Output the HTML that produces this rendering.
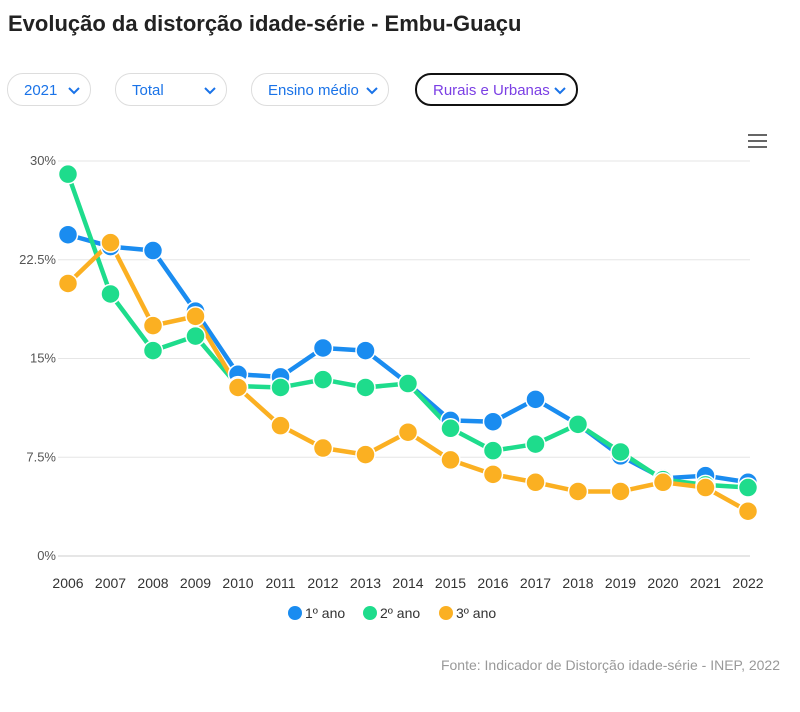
<!DOCTYPE html>
<html><head><meta charset="utf-8">
<style>
body{margin:0;width:800px;height:712px;background:#fff;font-family:"Liberation Sans",sans-serif;position:relative;overflow:hidden}
h1{position:absolute;left:8px;top:11px;margin:0;font-size:22px;font-weight:bold;color:#222}
.dd{position:absolute;top:73px;height:33px;border:1px solid #ddd;border-radius:16px;box-sizing:border-box;color:#1a73e8;font-size:15px;line-height:33px;padding-left:16px}
.dd svg{position:absolute;right:10px;top:13px}
.src{position:absolute;right:20px;top:657px;font-size:14px;color:#999}
.menu{position:absolute;left:748px;top:134px}
.menu div{width:19px;height:2px;background:#666;margin-bottom:4px}
</style></head><body>
<h1>Evolução da distorção idade-série - Embu-Guaçu</h1>
<div class="dd" style="left:7px;width:84px">2021<svg width="12" height="8"><path d="M1 1l5 5 5-5" stroke="#1a73e8" stroke-width="2" fill="none"/></svg></div>
<div class="dd" style="left:115px;width:112px">Total<svg width="12" height="8"><path d="M1 1l5 5 5-5" stroke="#1a73e8" stroke-width="2" fill="none"/></svg></div>
<div class="dd" style="left:251px;width:138px">Ensino médio<svg width="12" height="8"><path d="M1 1l5 5 5-5" stroke="#1a73e8" stroke-width="2" fill="none"/></svg></div>
<div class="dd" style="left:415px;width:163px;border:2px solid #111;line-height:31px;color:#7b3fe4">Rurais e Urbanas<svg width="12" height="8" style="top:12px"><path d="M1 1l5 5 5-5" stroke="#1a73e8" stroke-width="2" fill="none"/></svg></div>
<div class="menu"><div></div><div></div><div></div></div>
<svg id="c" width="800" height="712" style="position:absolute;left:0;top:0;pointer-events:none"></svg>
<div class="src">Fonte: Indicador de Distorção idade-série - INEP, 2022</div>
<script>
const years=["2006","2007","2008","2009","2010","2011","2012","2013","2014","2015","2016","2017","2018","2019","2020","2021","2022"];
const ano1=[24.4,23.5,23.2,18.6,13.8,13.6,15.8,15.6,13.1,10.3,10.2,11.9,10.0,7.6,5.9,6.1,5.6];
const ano2=[29.0,19.9,15.6,16.7,12.9,12.8,13.4,12.8,13.1,9.7,8.0,8.5,10.0,7.9,5.8,5.4,5.2];
const ano3=[20.7,23.8,17.5,18.2,12.8,9.9,8.2,7.7,9.4,7.3,6.2,5.6,4.9,4.9,5.6,5.2,3.4];
const yTicks=[0,7.5,15,22.5,30];
const yLabels=["0%","7.5%","15%","22.5%","30%"];
const series=[{n:"1º ano",d:ano1,c:"#1a8cf0"},{n:"2º ano",d:ano2,c:"#1edc8c"},{n:"3º ano",d:ano3,c:"#fbb022"}];
const NS="http://www.w3.org/2000/svg",svg=document.getElementById('c');
const x=i=>68+i*42.5, y=v=>556-v/30*395;
function mk(t,a,p){const e=document.createElementNS(NS,t);for(const k in a)e.setAttribute(k,a[k]);(p||svg).appendChild(e);return e;}
yTicks.forEach((v,i)=>{
 const l=mk('line',{x1:58,x2:750,y1:y(v),y2:y(v),stroke:i==0?'#ccc':'#e6e6e6'});
 
 
 const t=mk('text',{x:56,y:y(v)+4,'text-anchor':'end','font-size':13,fill:'#555'});t.textContent=yLabels[i];
 
 
});
years.forEach((yr,i)=>{
 const t=mk('text',{x:x(i),y:588,'text-anchor':'middle','font-size':14,fill:'#333'});t.textContent=yr;
 
 
});
series.forEach(s=>{
 const p=mk('polyline',{points:s.d.map((v,i)=>x(i)+','+y(v)).join(' '),fill:'none',stroke:s.c,'stroke-width':4.5,'stroke-linejoin':'round'});
 
 
});
series.forEach(s=>{
 s.d.forEach((v,i)=>{
  const c=mk('circle',{cx:x(i),cy:y(v),r:9.5,fill:s.c,stroke:'#fff','stroke-width':1.5});
  
  
 });
});
const lx=[295,370,446];
series.forEach((s,i)=>{
 const g=mk('g',{});
 
 
 mk('circle',{cx:lx[i],cy:613,r:7,fill:s.c},g);
 const t=mk('text',{x:lx[i]+10,y:618,'font-size':14,fill:'#333'},g);t.textContent=s.n;
});
</script>
</body></html>
